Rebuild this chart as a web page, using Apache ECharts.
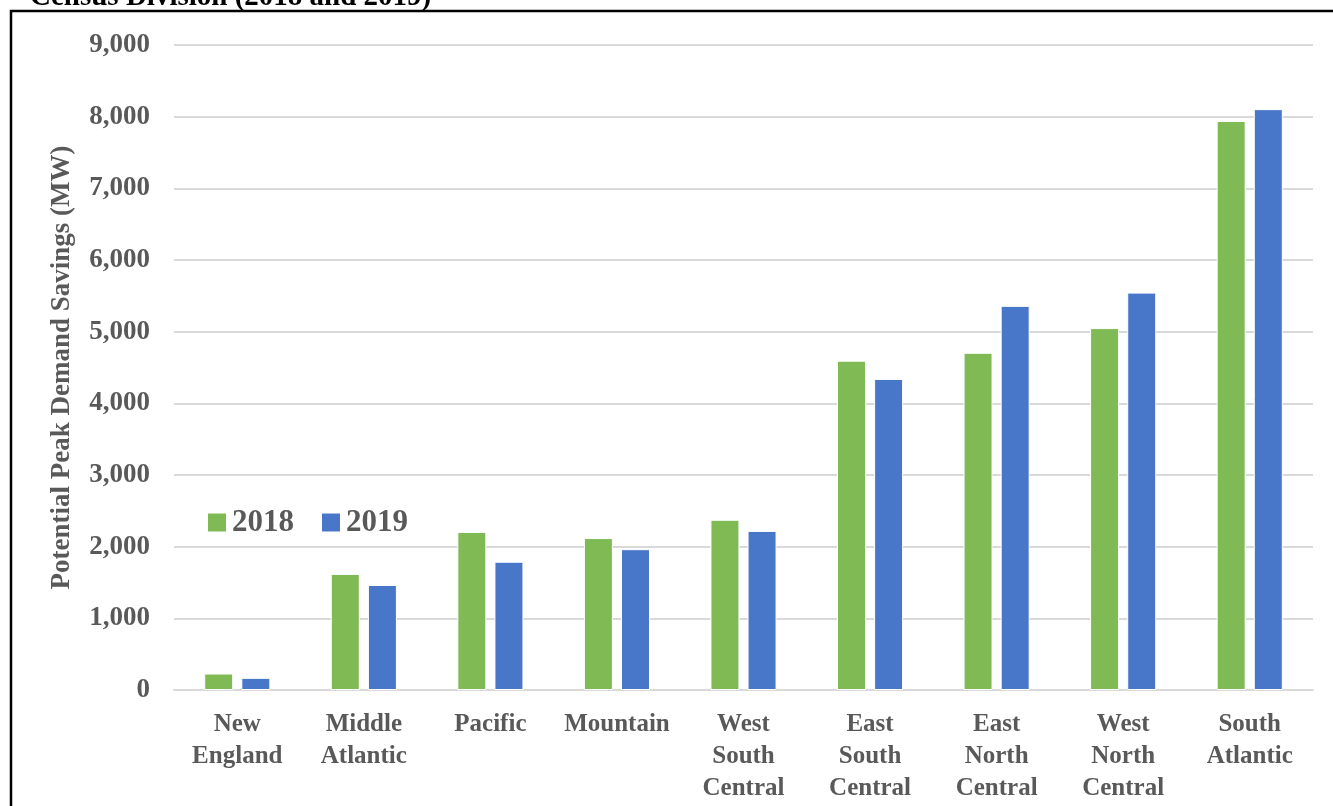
<!DOCTYPE html>
<html><head><meta charset="utf-8">
<script src="https://cdn.jsdelivr.net/npm/echarts@6/dist/echarts.min.js"></script>
<style>html,body{margin:0;padding:0;background:#fff;}#c{width:1333px;height:806px;}</style>
</head><body><div id="c"></div>
<script>
const categories = ['New\nEngland','Middle\nAtlantic','Pacific','Mountain','West\nSouth\nCentral','East\nSouth\nCentral','East\nNorth\nCentral','West\nNorth\nCentral','South\nAtlantic'];
const values2018 = [230, 1620, 2205, 2120, 2375, 4595, 4705, 5050, 7940];
const values2019 = [170, 1465, 1790, 1965, 2220, 4340, 5360, 5545, 8105];
const seriesNames = ['2018','2019'];
const font = 'Liberation Serif';
const chart = echarts.init(document.getElementById('c'));
chart.setOption({
  animation:false,
  graphic:[
    {type:'rect',shape:{x:11,y:11,width:1340,height:820},style:{fill:'none',stroke:'#000',lineWidth:2.5}},
    {type:'text',left:30,top:-17,style:{text:'Census Division (2018 and 2019)',font:'bold 29px "Liberation Serif"',fill:'#000'}}
  ],
  legend:{left:201,top:502,itemWidth:20,itemHeight:20,itemGap:26,icon:'rect',
    textStyle:{fontFamily:font,fontSize:31,fontWeight:'bold',color:'#595959'},data:seriesNames},
  grid:{left:174,right:20,top:45,bottom:116},
  xAxis:{type:'category',data:categories,
    axisLine:{lineStyle:{color:'#d9d9d9',width:2}},axisTick:{show:false},
    axisLabel:{fontFamily:font,fontSize:25,fontWeight:'bold',color:'#595959',lineHeight:32,margin:19,interval:0}},
  yAxis:{type:'value',min:0,max:9000,interval:1000,
    name:'Potential Peak Demand Savings (MW)',nameLocation:'middle',nameGap:98,nameRotate:90,
    nameTextStyle:{fontFamily:font,fontSize:27,fontWeight:'bold',color:'#595959'},
    axisLabel:{fontFamily:font,fontSize:27,fontWeight:'bold',color:'#595959',margin:24,
      formatter:v=>v.toLocaleString('en-US')},
    splitLine:{lineStyle:{color:'#d9d9d9',width:2}}},
  series:[
    {name:seriesNames[0],type:'bar',data:values2018,barWidth:29,barGap:'28%',
      itemStyle:{color:'#7fba55',borderColor:'#fff',borderWidth:1}},
    {name:seriesNames[1],type:'bar',data:values2019,barWidth:29,
      itemStyle:{color:'#4876c8',borderColor:'#fff',borderWidth:1}}
  ]
});
</script></body></html>
